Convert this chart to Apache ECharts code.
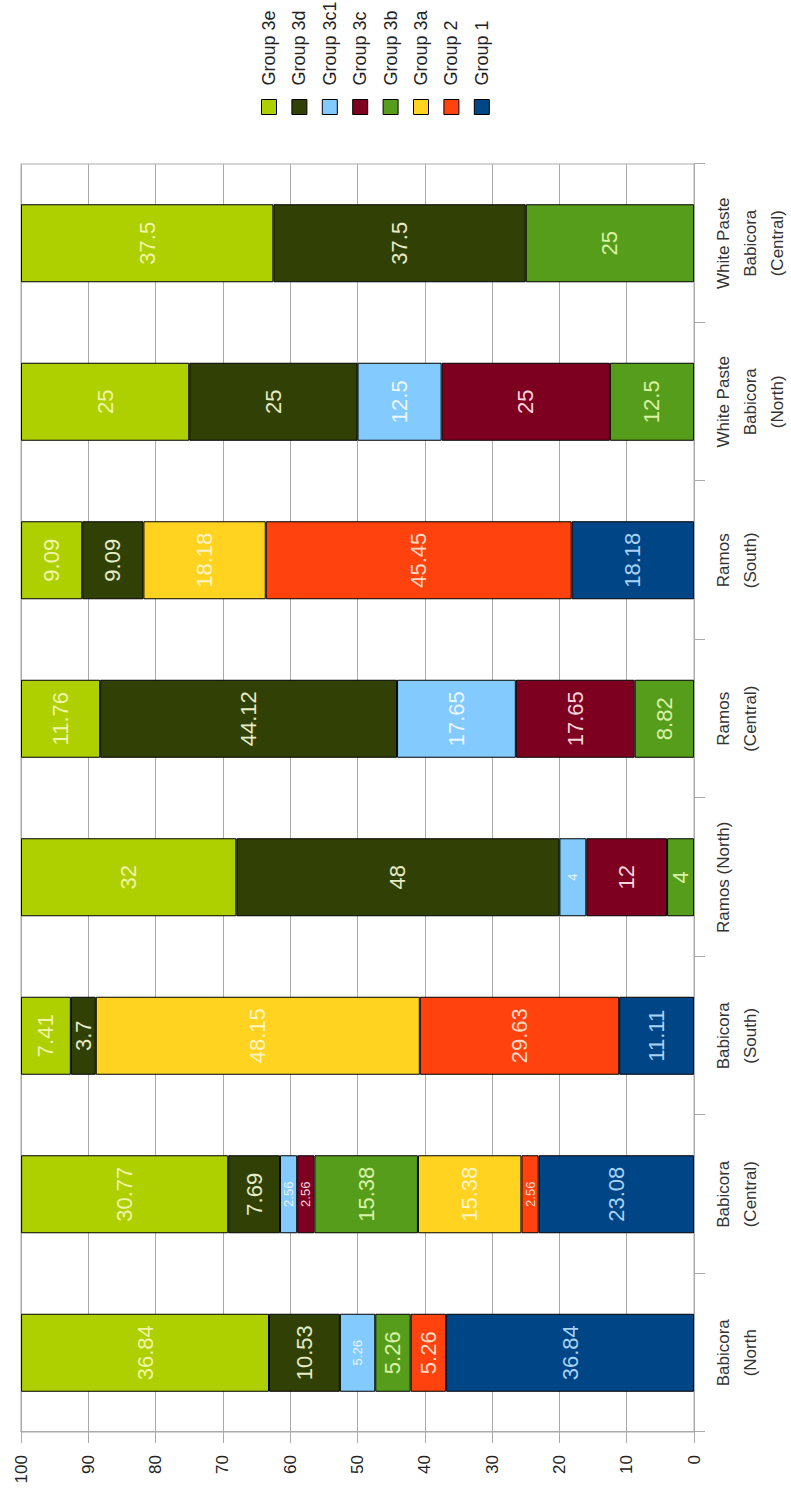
<!DOCTYPE html>
<html>
<head>
<meta charset="utf-8">
<title>Groups by site</title>
<script src="https://cdn.jsdelivr.net/npm/echarts@6/dist/echarts.min.js"></script>
<style>
  html, body { margin: 0; padding: 0; background: #fff; overflow: hidden; }
  /* the chart is drawn as a normal column chart, then turned on its side like the scan */
  #main {
    position: absolute; left: 0; top: 0;
    width: 1492px; height: 791px;
    transform-origin: 0 0;
    transform: translate(0px, 1492px) rotate(-90deg);
  }
</style>
</head>
<body>
<div id="main"></div>
<script>
// categories (left to right in the unrotated chart)
var sites = [
  "Babicora\n(North",
  "Babicora\n(Central)",
  "Babicora\n(South)",
  "Ramos (North)",
  "Ramos\n(Central)",
  "Ramos\n(South)",
  "White Paste\nBabicora\n(North)",
  "White Paste\nBabicora\n(Central)"
];

// percentages, stacked from Group 1 upward (null = no segment)
var group1  = [36.84, 23.08, 11.11, null, null, 18.18, null, null];
var group2  = [5.26, 2.56, 29.63, null, null, 45.45, null, null];
var group3a = [null, 15.38, 48.15, null, null, 18.18, null, null];
var group3b = [5.26, 15.38, null, 4, 8.82, null, 12.5, 25];
var group3c = [null, 2.56, null, 12, 17.65, null, 25, null];
var group3c1 = [5.26, 2.56, null, 4, 17.65, null, 12.5, null];
var group3d = [10.53, 7.69, 3.7, 48, 44.12, 9.09, 25, 37.5];
var group3e = [36.84, 30.77, 7.41, 32, 11.76, 9.09, 25, 37.5];

var valueTicks = [0, 10, 20, 30, 40, 50, 60, 70, 80, 90, 100];

var groups = [
  { name: "Group 1", data: group1, color: "#004586", text: "#a9d2f5" },
  { name: "Group 2", data: group2, color: "#ff420e", text: "#ffd8c2" },
  { name: "Group 3a", data: group3a, color: "#ffd320", text: "#fff4c4" },
  { name: "Group 3b", data: group3b, color: "#579d1c", text: "#d9f2a6" },
  { name: "Group 3c", data: group3c, color: "#7e0021", text: "#f5d5dc" },
  { name: "Group 3c1", data: group3c1, color: "#83caff", text: "#eaf6ff" },
  { name: "Group 3d", data: group3d, color: "#314004", text: "#e6ecc8" },
  { name: "Group 3e", data: group3e, color: "#aecf00", text: "#eef5a8" }
];

// narrow segments whose labels were shrunk in the original
var smallLabels = {
  "Group 3c1": [0, 1, 3],
  "Group 3c": [1],
  "Group 2": [1]
};

var font = "'Liberation Sans', Arial, sans-serif";

var container = document.getElementById("main");
var myChart = echarts.init(container, null, { renderer: "svg" });

var series = groups.map(function (g) {
  var small = smallLabels[g.name] || [];
  return {
    name: g.name,
    type: "bar",
    stack: "total",
    barWidth: 78,
    itemStyle: { color: g.color, borderColor: "#000", borderWidth: 1 },
    label: {
      show: true,
      position: "inside",
      color: g.text,
      fontFamily: font,
      fontSize: 22
    },
    data: g.data.map(function (v, i) {
      if (small.indexOf(i) >= 0) {
        return { value: v, label: { fontSize: 13 } };
      }
      return v;
    })
  };
});

myChart.setOption({
  backgroundColor: "#fff",
  animation: false,
  grid: {
    left: 60,
    right: 164,
    top: 21,
    bottom: 95,
    show: true,
    borderColor: "#aaa",
    borderWidth: 1
  },
  legend: {
    orient: "vertical",
    left: 1377,
    top: 260,
    padding: 0,
    itemWidth: 15,
    itemHeight: 15,
    itemGap: 12.4,
    icon: "rect",
    data: groups.map(function (g) { return g.name; }).reverse(),
    itemStyle: { borderColor: "#000", borderWidth: 1 },
    textStyle: {
      fontFamily: font,
      fontSize: 18,
      lineHeight: 15,
      color: "#222",
      padding: [0, 0, 0, 9]
    }
  },
  xAxis: {
    type: "category",
    data: sites,
    axisLine: { lineStyle: { color: "#aaa" } },
    axisTick: { show: true, length: 11, lineStyle: { color: "#aaa" } },
    axisLabel: {
      interval: 0,
      margin: 16,
      fontFamily: font,
      fontSize: 17,
      lineHeight: 27,
      color: "#333"
    }
  },
  yAxis: {
    type: "value",
    min: valueTicks[0],
    max: valueTicks[valueTicks.length - 1],
    interval: 10,
    axisLine: { show: true, lineStyle: { color: "#aaa" } },
    axisTick: { show: true, length: 11, lineStyle: { color: "#aaa" } },
    splitLine: { lineStyle: { color: "#aaa" } },
    axisLabel: {
      margin: 23,
      fontFamily: font,
      fontSize: 17,
      color: "#222"
    }
  },
  series: series
});
</script>
</body>
</html>
